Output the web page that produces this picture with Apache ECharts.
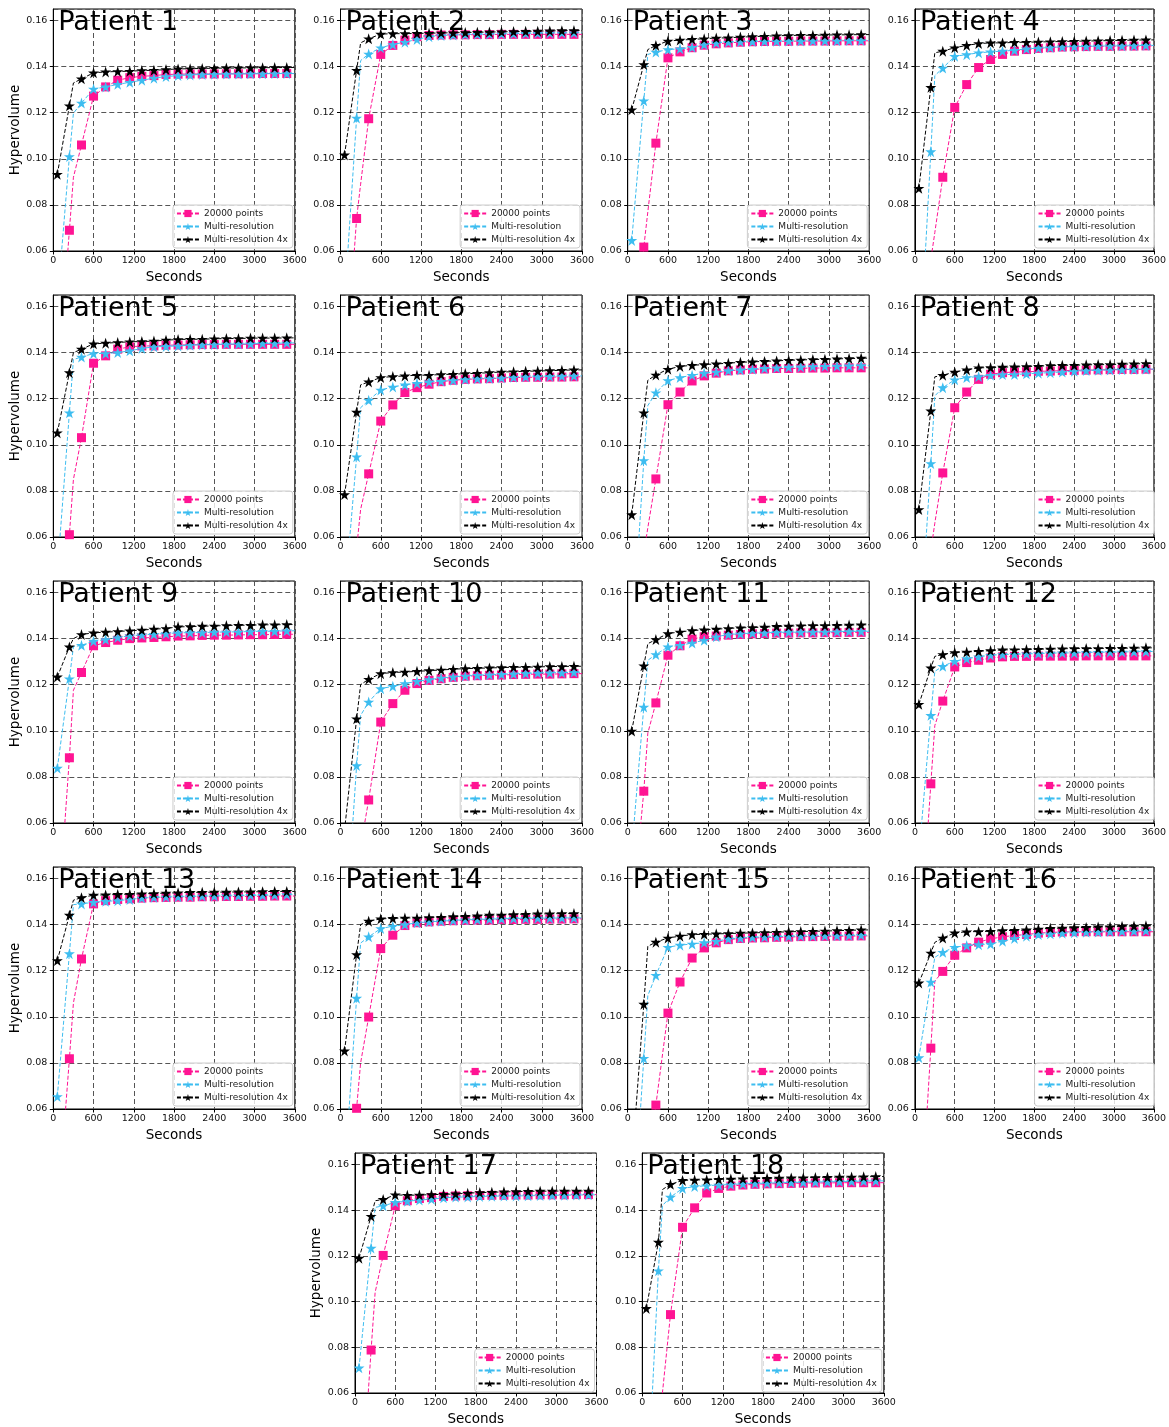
<!DOCTYPE html>
<html lang="en">
<head>
    <meta charset="UTF-8"/>
    <script src="https://cdn.jsdelivr.net/npm/echarts@6/dist/echarts.min.js"></script>
    <title>hypervolume per patient</title>
    <style>
        html, body { margin: 0; padding: 0; background: #fff; }
    </style>
</head>
<body>
<div id="main" style="width:1169px;height:1427px;"></div>
<script type="text/javascript">
    // sample times (s); 300 and 3600 are line points without a marker
    var times = [60, 240, 300, 420, 600, 780, 960, 1140, 1320, 1500, 1680, 1860, 2040, 2220, 2400, 2580, 2760, 2940, 3120, 3300, 3480, 3600];
    var unmarked = [300, 3600];
    var seriesNames = ['20000 points', 'Multi-resolution', 'Multi-resolution 4x'];
    var xTicks = [0, 600, 1200, 1800, 2400, 3000, 3600];
    var yTicks = [0.06, 0.08, 0.10, 0.12, 0.14, 0.16];

    var p1_points = [0.0, 0.069, 0.092, 0.106, 0.1272, 0.1312, 0.1341, 0.1352, 0.1358, 0.1361, 0.1366, 0.1367, 0.1368, 0.1368, 0.1368, 0.1369, 0.1369, 0.1369, 0.137, 0.137, 0.137, 0.137];
    var p1_multi = [0.0374, 0.101, 0.1198, 0.1242, 0.1303, 0.1312, 0.1323, 0.1332, 0.1341, 0.135, 0.1357, 0.1361, 0.1364, 0.1366, 0.1367, 0.1368, 0.1368, 0.1369, 0.1369, 0.137, 0.137, 0.137];
    var p1_multi4x = [0.0933, 0.123, 0.1329, 0.1347, 0.1373, 0.1377, 0.1379, 0.138, 0.1383, 0.1384, 0.1387, 0.139, 0.1391, 0.1392, 0.1393, 0.1394, 0.1394, 0.1395, 0.1395, 0.1396, 0.1396, 0.1396];

    var p2_points = [0.0, 0.0741, 0.089, 0.1174, 0.1453, 0.1492, 0.1515, 0.153, 0.1535, 0.1537, 0.1538, 0.1538, 0.1539, 0.1539, 0.154, 0.154, 0.154, 0.154, 0.154, 0.154, 0.154, 0.154];
    var p2_multi = [0.0378, 0.1177, 0.1426, 0.1455, 0.1482, 0.1496, 0.1506, 0.1518, 0.153, 0.1535, 0.1537, 0.1539, 0.154, 0.1541, 0.1542, 0.1543, 0.1544, 0.1545, 0.1546, 0.1546, 0.1547, 0.1547];
    var p2_multi4x = [0.1017, 0.1384, 0.1503, 0.1521, 0.1541, 0.1543, 0.1543, 0.1544, 0.1545, 0.1546, 0.1547, 0.1548, 0.1549, 0.155, 0.1551, 0.1552, 0.1553, 0.1554, 0.1555, 0.1556, 0.1557, 0.1557];

    var p3_points = [0.0, 0.0617, 0.077, 0.1068, 0.1438, 0.1464, 0.1482, 0.1493, 0.1499, 0.1503, 0.1506, 0.1508, 0.1509, 0.151, 0.151, 0.1511, 0.1511, 0.1511, 0.1512, 0.1512, 0.1512, 0.1512];
    var p3_multi = [0.0646, 0.1252, 0.1453, 0.1463, 0.1474, 0.1477, 0.1484, 0.1496, 0.1503, 0.1506, 0.1508, 0.1509, 0.151, 0.151, 0.1511, 0.1511, 0.1512, 0.1512, 0.1512, 0.1513, 0.1513, 0.1513];
    var p3_multi4x = [0.1213, 0.1409, 0.1474, 0.1492, 0.1511, 0.1515, 0.1518, 0.1521, 0.1524, 0.1525, 0.1528, 0.153, 0.1532, 0.1534, 0.1535, 0.1536, 0.1536, 0.1537, 0.1538, 0.1538, 0.1539, 0.1539];

    var p4_points = [0.0, 0.0562, 0.068, 0.092, 0.1223, 0.1322, 0.1396, 0.1431, 0.1453, 0.1467, 0.1474, 0.1479, 0.1482, 0.1485, 0.1486, 0.1487, 0.1488, 0.1488, 0.1489, 0.1489, 0.149, 0.149];
    var p4_multi = [0.0073, 0.1031, 0.1361, 0.1394, 0.1445, 0.1452, 0.146, 0.1464, 0.1467, 0.1471, 0.1477, 0.148, 0.1483, 0.1486, 0.1487, 0.1488, 0.1489, 0.149, 0.149, 0.1491, 0.1492, 0.1492];
    var p4_multi4x = [0.0872, 0.131, 0.146, 0.1467, 0.1482, 0.1492, 0.15, 0.1503, 0.1503, 0.1505, 0.1506, 0.1507, 0.1508, 0.1509, 0.151, 0.1511, 0.1512, 0.1513, 0.1514, 0.1515, 0.1516, 0.1516];

    var p5_points = [0.0, 0.061, 0.085, 0.1031, 0.1354, 0.1386, 0.1415, 0.1425, 0.1429, 0.1429, 0.1432, 0.1433, 0.1434, 0.1435, 0.1435, 0.1436, 0.1436, 0.1436, 0.1436, 0.1436, 0.1436, 0.1436];
    var p5_multi = [0.0446, 0.1139, 0.137, 0.1381, 0.1396, 0.1396, 0.14, 0.1408, 0.1418, 0.1425, 0.1427, 0.1429, 0.1432, 0.1434, 0.1435, 0.1437, 0.1437, 0.1438, 0.144, 0.144, 0.1442, 0.1442];
    var p5_multi4x = [0.1052, 0.1313, 0.14, 0.1415, 0.1438, 0.1441, 0.1444, 0.1447, 0.1448, 0.145, 0.1454, 0.1457, 0.1458, 0.1458, 0.146, 0.1461, 0.1461, 0.1463, 0.1463, 0.1463, 0.1464, 0.1464];

    var p6_points = [0.0, 0.055, 0.072, 0.0874, 0.1103, 0.1173, 0.1227, 0.1248, 0.1263, 0.1274, 0.128, 0.1284, 0.1286, 0.1287, 0.129, 0.1292, 0.1293, 0.1293, 0.1294, 0.1294, 0.1295, 0.1295];
    var p6_multi = [0.0328, 0.0948, 0.1161, 0.1193, 0.1238, 0.1251, 0.126, 0.1267, 0.1273, 0.1276, 0.128, 0.1284, 0.1287, 0.1288, 0.129, 0.1293, 0.1295, 0.1296, 0.1297, 0.1298, 0.1299, 0.1299];
    var p6_multi4x = [0.0784, 0.1142, 0.126, 0.1273, 0.1292, 0.1296, 0.1299, 0.1302, 0.1302, 0.1305, 0.1306, 0.1309, 0.131, 0.1313, 0.1316, 0.1317, 0.1319, 0.132, 0.1322, 0.1323, 0.1325, 0.1325];

    var p7_points = [0.0, 0.053, 0.064, 0.0852, 0.1174, 0.1229, 0.1277, 0.1299, 0.1311, 0.1321, 0.1325, 0.1328, 0.1329, 0.1331, 0.1331, 0.1332, 0.1333, 0.1333, 0.1334, 0.1334, 0.1334, 0.1334];
    var p7_multi = [0.0102, 0.0932, 0.117, 0.1226, 0.1279, 0.1292, 0.1302, 0.1311, 0.1316, 0.1322, 0.1325, 0.1328, 0.1332, 0.1334, 0.1337, 0.1338, 0.134, 0.1341, 0.1342, 0.1343, 0.1344, 0.1344];
    var p7_multi4x = [0.0697, 0.1139, 0.128, 0.1303, 0.1328, 0.134, 0.1345, 0.1348, 0.1351, 0.1354, 0.1358, 0.136, 0.1362, 0.1364, 0.1367, 0.1368, 0.137, 0.1371, 0.1373, 0.1374, 0.1376, 0.1376];

    var p8_points = [0.0, 0.054, 0.066, 0.0878, 0.1161, 0.1229, 0.1284, 0.1306, 0.1313, 0.1316, 0.1317, 0.1319, 0.132, 0.1322, 0.1323, 0.1324, 0.1325, 0.1326, 0.1327, 0.1327, 0.1328, 0.1328];
    var p8_multi = [0.0099, 0.0919, 0.1212, 0.1248, 0.1282, 0.1292, 0.1296, 0.1302, 0.1305, 0.1305, 0.1308, 0.1311, 0.1313, 0.1316, 0.1319, 0.1322, 0.1323, 0.1325, 0.1326, 0.1327, 0.1328, 0.1328];
    var p8_multi4x = [0.0719, 0.1147, 0.1295, 0.1302, 0.1316, 0.1325, 0.1334, 0.1335, 0.1337, 0.1338, 0.134, 0.1341, 0.1344, 0.1345, 0.1345, 0.1347, 0.1348, 0.1348, 0.135, 0.1351, 0.1353, 0.1353];

    var p9_points = [0.0133, 0.0883, 0.1176, 0.1253, 0.1369, 0.1383, 0.1393, 0.14, 0.1403, 0.1405, 0.1408, 0.1411, 0.1412, 0.1414, 0.1415, 0.1415, 0.1416, 0.1417, 0.1417, 0.1418, 0.1419, 0.1419];
    var p9_multi = [0.0838, 0.1226, 0.1365, 0.1371, 0.1389, 0.1396, 0.1405, 0.1412, 0.1416, 0.1419, 0.1422, 0.1425, 0.1426, 0.1426, 0.1428, 0.1429, 0.1429, 0.1431, 0.1432, 0.1432, 0.1434, 0.1434];
    var p9_multi4x = [0.1234, 0.1364, 0.14, 0.1418, 0.1425, 0.1428, 0.1431, 0.1434, 0.1437, 0.1441, 0.1444, 0.1451, 0.1452, 0.1454, 0.1455, 0.1457, 0.1458, 0.1458, 0.146, 0.146, 0.1461, 0.1461];

    var p10_points = [0.009, 0.0395, 0.0497, 0.07, 0.1038, 0.1118, 0.1176, 0.1205, 0.1219, 0.1226, 0.1232, 0.1237, 0.1239, 0.1241, 0.1242, 0.1244, 0.1245, 0.1246, 0.1246, 0.1247, 0.1248, 0.1248];
    var p10_multi = [0.0063, 0.0849, 0.1067, 0.1125, 0.1183, 0.1193, 0.1205, 0.1215, 0.1222, 0.1229, 0.1234, 0.1238, 0.1241, 0.1243, 0.1245, 0.1247, 0.1249, 0.1251, 0.1252, 0.1252, 0.1254, 0.1254];
    var p10_multi4x = [0.0568, 0.1052, 0.12, 0.1224, 0.1248, 0.1253, 0.1255, 0.1258, 0.1261, 0.1264, 0.1267, 0.127, 0.1271, 0.1273, 0.1274, 0.1276, 0.1276, 0.1277, 0.1279, 0.1279, 0.128, 0.128];

    var p11_points = [0.0173, 0.0738, 0.099, 0.1121, 0.1328, 0.1369, 0.1398, 0.1408, 0.1411, 0.1415, 0.1418, 0.1421, 0.1422, 0.1424, 0.1424, 0.1425, 0.1425, 0.1426, 0.1426, 0.1427, 0.1427, 0.1427];
    var p11_multi = [0.0479, 0.1103, 0.1306, 0.1331, 0.1364, 0.1371, 0.1381, 0.1393, 0.1408, 0.1418, 0.1421, 0.1424, 0.1425, 0.1427, 0.1428, 0.1428, 0.1429, 0.1429, 0.143, 0.1431, 0.1432, 0.1432];
    var p11_multi4x = [0.0999, 0.1282, 0.1378, 0.1396, 0.1422, 0.1429, 0.1435, 0.1438, 0.1441, 0.1444, 0.1447, 0.1448, 0.145, 0.1453, 0.1454, 0.1456, 0.1457, 0.1457, 0.1458, 0.1459, 0.146, 0.146];

    var p12_points = [0.0, 0.077, 0.1023, 0.1129, 0.1277, 0.1296, 0.1306, 0.1316, 0.1321, 0.1323, 0.1323, 0.1324, 0.1324, 0.1324, 0.1324, 0.1325, 0.1325, 0.1325, 0.1325, 0.1325, 0.1325, 0.1325];
    var p12_multi = [0.0458, 0.1067, 0.1258, 0.128, 0.1302, 0.1313, 0.1321, 0.1328, 0.1331, 0.1332, 0.1334, 0.1335, 0.1337, 0.1338, 0.1338, 0.134, 0.1341, 0.1341, 0.1342, 0.1343, 0.1344, 0.1344];
    var p12_multi4x = [0.1115, 0.1273, 0.1323, 0.1331, 0.134, 0.1342, 0.1345, 0.1348, 0.1351, 0.1352, 0.1353, 0.1354, 0.1355, 0.1356, 0.1357, 0.1357, 0.1357, 0.1358, 0.1358, 0.1359, 0.136, 0.136];

    var p13_points = [0.013, 0.0818, 0.106, 0.1251, 0.149, 0.1504, 0.1509, 0.1512, 0.1515, 0.1517, 0.1518, 0.1519, 0.1519, 0.1521, 0.1521, 0.1522, 0.1522, 0.1523, 0.1523, 0.1524, 0.1524, 0.1524];
    var p13_multi = [0.0654, 0.1274, 0.1487, 0.149, 0.1497, 0.1501, 0.1504, 0.1509, 0.1515, 0.1518, 0.152, 0.1521, 0.1522, 0.1524, 0.1524, 0.1525, 0.1525, 0.1527, 0.1527, 0.1528, 0.153, 0.153];
    var p13_multi4x = [0.1244, 0.1441, 0.1506, 0.1517, 0.1528, 0.1529, 0.1531, 0.1532, 0.1534, 0.1535, 0.1537, 0.1538, 0.154, 0.154, 0.1541, 0.1541, 0.1542, 0.1542, 0.1543, 0.1544, 0.1544, 0.1544];

    var p14_points = [0.0, 0.0603, 0.08, 0.0999, 0.1296, 0.1354, 0.1396, 0.1408, 0.1412, 0.1415, 0.1417, 0.1419, 0.142, 0.142, 0.1422, 0.1422, 0.1423, 0.1423, 0.1424, 0.1424, 0.1425, 0.1425];
    var p14_multi = [0.0308, 0.1081, 0.132, 0.1347, 0.1383, 0.1393, 0.14, 0.1408, 0.1412, 0.1415, 0.1418, 0.1421, 0.1422, 0.1424, 0.1425, 0.1427, 0.1427, 0.1428, 0.1428, 0.1429, 0.1429, 0.1429];
    var p14_multi4x = [0.0852, 0.127, 0.14, 0.1415, 0.1425, 0.1427, 0.1429, 0.1429, 0.1431, 0.1432, 0.1435, 0.1436, 0.1438, 0.1441, 0.1442, 0.1444, 0.1445, 0.1447, 0.1447, 0.1448, 0.1448, 0.1448];

    var p15_points = [0.0, 0.022, 0.035, 0.0617, 0.1016, 0.1151, 0.1255, 0.1299, 0.1321, 0.1335, 0.134, 0.1342, 0.1343, 0.1345, 0.1346, 0.1348, 0.1348, 0.1349, 0.135, 0.135, 0.1351, 0.1351];
    var p15_multi = [0.001, 0.082, 0.1092, 0.118, 0.1302, 0.1311, 0.1316, 0.1322, 0.1328, 0.1338, 0.1342, 0.1345, 0.1346, 0.1348, 0.1349, 0.1351, 0.1351, 0.1352, 0.1352, 0.1353, 0.1354, 0.1354];
    var p15_multi4x = [0.0355, 0.1055, 0.1306, 0.1324, 0.1342, 0.135, 0.1357, 0.1358, 0.136, 0.1361, 0.1363, 0.1364, 0.1366, 0.1367, 0.1369, 0.137, 0.1371, 0.1372, 0.1374, 0.1375, 0.1377, 0.1377];

    var p16_points = [0.0, 0.0864, 0.1155, 0.1197, 0.1267, 0.1299, 0.1324, 0.1338, 0.1347, 0.1353, 0.1357, 0.1363, 0.1366, 0.1368, 0.1369, 0.1369, 0.1369, 0.1369, 0.1369, 0.1369, 0.1369, 0.1369];
    var p16_multi = [0.0823, 0.1151, 0.1258, 0.128, 0.1302, 0.1309, 0.1313, 0.1316, 0.1328, 0.134, 0.135, 0.1357, 0.136, 0.1363, 0.1365, 0.1367, 0.1368, 0.137, 0.1371, 0.1372, 0.1374, 0.1374];
    var p16_multi4x = [0.1147, 0.1277, 0.1323, 0.1342, 0.1364, 0.1369, 0.137, 0.1371, 0.1374, 0.1375, 0.1377, 0.1381, 0.1384, 0.1385, 0.1387, 0.1388, 0.139, 0.1391, 0.1393, 0.1394, 0.1395, 0.1395];

    var p17_points = [0.0, 0.0788, 0.104, 0.1202, 0.1419, 0.1441, 0.1451, 0.1455, 0.146, 0.1462, 0.1463, 0.1464, 0.1465, 0.1465, 0.1466, 0.1466, 0.1467, 0.1467, 0.1467, 0.1468, 0.1468, 0.1468];
    var p17_multi = [0.071, 0.1234, 0.1412, 0.1419, 0.1434, 0.1439, 0.1444, 0.1448, 0.1454, 0.1457, 0.1458, 0.146, 0.1461, 0.1462, 0.1462, 0.1463, 0.1464, 0.1465, 0.1465, 0.1466, 0.1467, 0.1467];
    var p17_multi4x = [0.119, 0.1373, 0.1441, 0.1447, 0.1467, 0.1465, 0.1466, 0.1468, 0.1469, 0.1471, 0.1474, 0.1477, 0.1478, 0.148, 0.1481, 0.1482, 0.1483, 0.1483, 0.1484, 0.1484, 0.1484, 0.1484];

    var p18_points = [0.0, 0.03, 0.06, 0.0943, 0.1325, 0.141, 0.1475, 0.1495, 0.1505, 0.151, 0.1513, 0.1515, 0.1516, 0.1517, 0.1518, 0.1519, 0.1519, 0.152, 0.152, 0.152, 0.152, 0.152];
    var p18_multi = [0.0065, 0.1135, 0.142, 0.1457, 0.1495, 0.1503, 0.1507, 0.151, 0.1512, 0.1515, 0.1517, 0.1518, 0.152, 0.1521, 0.1522, 0.1523, 0.1524, 0.1525, 0.1526, 0.1527, 0.1528, 0.1528];
    var p18_multi4x = [0.097, 0.126, 0.149, 0.1513, 0.153, 0.1532, 0.1533, 0.1535, 0.1536, 0.1537, 0.1538, 0.1539, 0.154, 0.1541, 0.1542, 0.1543, 0.1544, 0.1545, 0.1545, 0.1546, 0.1547, 0.1547];

    var patients = [
        [p1_points, p1_multi, p1_multi4x], [p2_points, p2_multi, p2_multi4x],
        [p3_points, p3_multi, p3_multi4x], [p4_points, p4_multi, p4_multi4x],
        [p5_points, p5_multi, p5_multi4x], [p6_points, p6_multi, p6_multi4x],
        [p7_points, p7_multi, p7_multi4x], [p8_points, p8_multi, p8_multi4x],
        [p9_points, p9_multi, p9_multi4x], [p10_points, p10_multi, p10_multi4x],
        [p11_points, p11_multi, p11_multi4x], [p12_points, p12_multi, p12_multi4x],
        [p13_points, p13_multi, p13_multi4x], [p14_points, p14_multi, p14_multi4x],
        [p15_points, p15_multi, p15_multi4x], [p16_points, p16_multi, p16_multi4x],
        [p17_points, p17_multi, p17_multi4x], [p18_points, p18_multi, p18_multi4x]
    ];

    var W = 1169, H = 1427;
    var PW = 241.5, PH = 242;
    var FONT = 'DejaVu Sans';
    var colors = ['#ff1493', '#3dbdf0', '#000000'];
    var STAR = 'path://M50,0 L61.2,34.5 L97.6,34.5 L68.2,55.9 L79.4,90.5 L50,69.1 L20.6,90.5 L31.8,55.9 L2.4,34.5 L38.8,34.5 Z';
    var symbols = ['rect', STAR, STAR];
    var symbolSizes = [9, 11, 11];

    function panelPos(i) {
        if (i < 16) {
            return {left: 53.3 + 287.2 * (i % 4), top: 9 + 286 * Math.floor(i / 4)};
        }
        return {left: i === 16 ? 355 : 642.3, top: 1153};
    }

    var option = {
        animation: false,
        backgroundColor: '#fff',
        textStyle: {fontFamily: FONT},
        grid: [], xAxis: [], yAxis: [], series: [], title: [], legend: []
    };

    patients.forEach(function (p, i) {
        var pos = panelPos(i);
        var firstCol = (i < 16 && i % 4 === 0) || i === 16;
        option.grid.push({
            left: pos.left, top: pos.top, width: PW, height: PH,
            show: true, borderColor: '#000', borderWidth: 1, containLabel: false
        });
        option.xAxis.push({
            type: 'value', gridIndex: i, min: xTicks[0], max: xTicks[xTicks.length - 1], interval: 600,
            name: 'Seconds', nameLocation: 'middle', nameGap: 19,
            nameTextStyle: {fontSize: 13.5, color: '#000', fontFamily: FONT},
            axisLine: {show: true, lineStyle: {color: '#000', width: 1}},
            axisTick: {show: true, inside: false, length: 3.5, lineStyle: {color: '#000'}},
            axisLabel: {fontSize: 9.5, color: '#111', margin: 5, fontFamily: FONT,
                formatter: function (v) { return String(Math.round(v)); }},
            splitLine: {show: true, lineStyle: {color: '#555', width: 1, type: [5, 3]}}
        });
        option.yAxis.push({
            type: 'value', gridIndex: i, min: yTicks[0], max: 0.165, interval: 0.02,
            name: firstCol ? 'Hypervolume' : '', nameLocation: 'middle', nameGap: 29, nameRotate: 90,
            nameTextStyle: {fontSize: 13.5, color: '#000', fontFamily: FONT},
            axisLine: {show: true, lineStyle: {color: '#000', width: 1}},
            axisTick: {show: true, inside: false, length: 3.5, lineStyle: {color: '#000'}},
            axisLabel: {fontSize: 9.5, color: '#111', margin: 6, fontFamily: FONT, showMaxLabel: false,
                formatter: function (v) { return v > 0.161 ? '' : v.toFixed(2); }},
            splitLine: {show: true, lineStyle: {color: '#555', width: 1, type: [5, 3]}}
        });
        p.forEach(function (vals, k) {
            var data = times.map(function (t, j) {
                var item = {value: [t, vals[j]]};
                if (unmarked.indexOf(t) >= 0) item.symbol = 'none';
                return item;
            });
            option.series.push({
                type: 'line', name: seriesNames[k], xAxisIndex: i, yAxisIndex: i,
                data: data, clip: true, showSymbol: true,
                symbol: symbols[k], symbolSize: symbolSizes[k],
                itemStyle: {color: colors[k], borderWidth: 0},
                lineStyle: {color: colors[k], width: 1, type: [4, 2]},
                z: 3 + k
            });
        });
        option.title.push({
            text: 'Patient ' + (i + 1), left: pos.left + 5, top: pos.top, padding: 0,
            textStyle: {fontSize: 27, fontWeight: 'normal', color: '#000', fontFamily: FONT}
        });
        option.legend.push({
            data: seriesNames, orient: 'vertical',
            right: W - (pos.left + PW) + 2, bottom: H - (pos.top + PH) + 3,
            itemWidth: 22, itemHeight: 9, itemGap: 4, padding: [4, 5, 4, 3],
            backgroundColor: 'rgba(255,255,255,0.8)', borderColor: '#cccccc', borderWidth: 1, borderRadius: 3,
            textStyle: {fontSize: 9, color: '#222', fontFamily: FONT},
            selectedMode: false
        });
    });

    var myChart = echarts.init(document.getElementById('main'), null, {renderer: 'canvas'});
    myChart.setOption(option);
</script>
</body>
</html>
